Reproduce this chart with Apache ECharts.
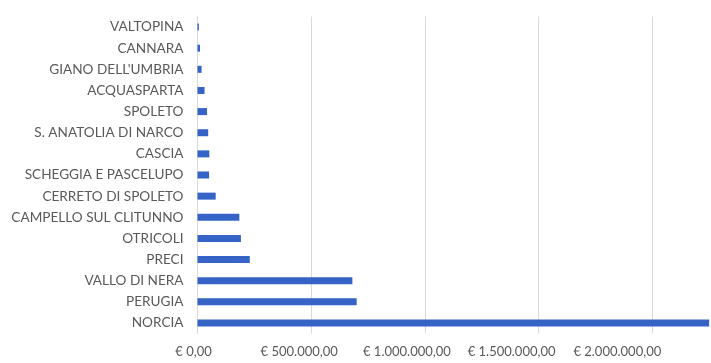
<!DOCTYPE html>
<html>
<head>
<meta charset="utf-8">
<script src="https://cdn.jsdelivr.net/npm/echarts@6/dist/echarts.min.js"></script>
<style>
html,body{margin:0;padding:0;background:#fff;}
#chart{width:711px;height:363px;}
</style>
</head>
<body>
<div id="chart"></div>
<script>
const categories = ["VALTOPINA","CANNARA","GIANO DELL'UMBRIA","ACQUASPARTA","SPOLETO","S. ANATOLIA DI NARCO","CASCIA","SCHEGGIA E PASCELUPO","CERRETO DI SPOLETO","CAMPELLO SUL CLITUNNO","OTRICOLI","PRECI","VALLO DI NERA","PERUGIA","NORCIA"];
const values = [6000, 11000, 18000, 31000, 42000, 47000, 52000, 51000, 80000, 184000, 191000, 230000, 681000, 700000, 2250000];
const tickValues = [0, 500000, 1000000, 1500000, 2000000];
const tickLabels = ["€ 0,00","€ 500.000,00","€ 1.000.000,00","€ 1.500.000,00","€ 2.000.000,00"];

const labelShift = [8, 24, 36, 54, 70];
const rich = {};
labelShift.forEach((p,i)=>{ rich['t'+i] = {padding:[0,p,0,0], color:'#595959', fontFamily:'Lato', fontSize:13}; });

const chart = echarts.init(document.getElementById('chart'));
chart.setOption({
  animation:false,
  backgroundColor:'#ffffff',
  grid:{left:197.5, top:16.5, height:317, width:568.5, containLabel:false, outerBoundsMode:'none'},
  xAxis:{
    type:'value', min:0, max:2500000, interval:500000,
    axisLine:{show:false}, axisTick:{show:false},
    splitLine:{show:true, lineStyle:{color:'#d9d9d9', width:1}},
    axisLabel:{color:'#595959', fontFamily:'Lato', fontSize:13, margin:12, rich:rich,
      formatter:v=>{ const i = tickValues.indexOf(v); return i<0 ? '' : '{t'+i+'|'+tickLabels[i]+'}'; }}
  },
  yAxis:{
    type:'category', data:categories, inverse:true,
    axisLine:{show:true, lineStyle:{color:'#d9d9d9'}}, axisTick:{show:false},
    axisLabel:{color:'#595959', fontFamily:'Lato', fontSize:13.6, margin:14}
  },
  series:[{
    type:'bar', data:values, barWidth:7,
    itemStyle:{color:'#3563c6'}
  }]
});
</script>
</body>
</html>
